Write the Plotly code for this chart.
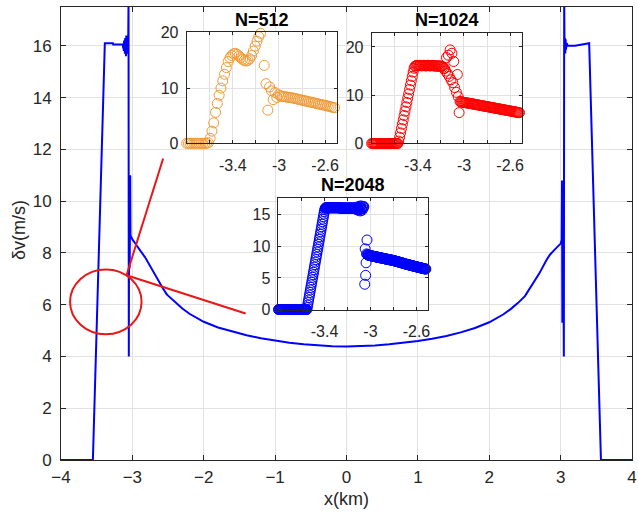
import plotly.graph_objects as go

# ---------------- data ----------------
INSET_X0 = -3.8          # first grid node shown in the insets
DOMAIN_LEN = 8.0         # x from -4 to 4 km

# N = 512 (orange)
y512 = ([0.0] * 12 +
        [0.1, 0.9, 2.2, 3.7, 5.6, 7.2, 8.7, 10.0, 11.3, 12.5, 13.7, 14.8, 15.5, 15.9,
         16.2, 16.3, 16.1, 15.8, 15.5, 15.2, 15.0, 14.9, 15.0, 15.3, 15.9, 16.7, 17.6,
         18.5, 19.3, 19.9, 20.2, 14.1, 10.8, 6.0, 10.2, 9.5, 7.9, 9.2, 8.3, 8.8, 8.6,
         8.5, 8.45, 8.4, 8.35, 8.3, 8.25, 8.2, 8.1, 8.05, 7.95, 7.9, 7.8, 7.75, 7.65,
         7.6, 7.5, 7.45, 7.35, 7.3, 7.2, 7.15, 7.05, 7.0, 6.9, 6.85, 6.75, 6.7, 6.6,
         6.5, 6.45])

# N = 1024 (red)
y1024 = ([0.0] * 30 +
         [0.5, 1.3, 2.2, 3.1, 4.0, 4.9, 5.8, 6.7, 7.6, 8.5, 9.4, 10.3, 11.2, 12.1, 13.0,
          13.9, 14.8, 15.6, 16.0, 16.1] +
         [16.2, 16.2, 16.1, 16.2, 16.2, 16.1, 16.1, 16.2, 16.2, 16.1, 16.1, 16.1, 16.2,
          16.2, 16.1, 16.1, 16.1, 16.2, 16.1, 16.1, 16.1, 16.0, 16.1, 16.1, 16.0, 16.0,
          16.1, 16.0, 16.0] +
         [15.8, 15.5, 15.6, 15.0, 17.8, 14.5, 18.3, 13.9, 19.4, 13.2, 18.7, 12.6, 17.0,
          11.6, 23.1, 10.6, 14.3, 9.7, 6.4, 8.7, 8.6, 8.62] +
         [8.55, 8.52, 8.49, 8.46, 8.43, 8.40, 8.37, 8.33, 8.30, 8.26, 8.23, 8.20, 8.16,
          8.13, 8.09, 8.06, 8.02, 7.99, 7.95, 7.92, 7.88, 7.85, 7.81, 7.78, 7.74, 7.71,
          7.67, 7.64, 7.60, 7.57, 7.53, 7.50, 7.46, 7.43, 7.39, 7.36, 7.32, 7.29, 7.25,
          7.22, 7.18, 7.15, 7.11, 7.08, 7.04, 7.01, 6.97, 6.94, 6.90, 6.87, 6.83, 6.80,
          6.76, 6.73, 6.69, 6.66, 6.62, 6.59, 6.55, 6.52, 6.48, 6.45, 6.41, 6.38])

# N = 2048 (blue)
y2048 = ([0.0] * 64 +
         [0.3, 0.7, 1.1, 1.5, 1.9, 2.3, 2.7, 3.1, 3.5, 3.9, 4.3, 4.7, 5.1, 5.5, 5.9, 6.3,
          6.7, 7.1, 7.5, 7.9, 8.3, 8.7, 9.1, 9.5, 9.9, 10.3, 10.7, 11.1, 11.5, 11.9, 12.3,
          12.7, 13.1, 13.5, 13.9, 14.3, 14.7, 15.1, 15.5, 15.8, 16.0, 16.1] +
         [16.1] * 30 + [16.05] * 35 +
         [16.0, 15.9, 16.1, 15.8, 16.2, 15.9, 16.0, 15.7, 16.3, 15.8, 16.1, 15.6, 16.4,
          15.9, 16.0, 15.7, 16.3, 16.0, 16.2, 16.3] +
         [17.8, 4.0, 9.6, 5.4, 7.4, 8.8, 11.0, 8.7, 8.65, 8.62] +
         [8.58, 8.56, 8.55, 8.53, 8.52, 8.50, 8.49, 8.47, 8.46, 8.44, 8.42, 8.41, 8.39,
          8.38, 8.36, 8.35, 8.33, 8.32, 8.30, 8.29, 8.27] +
         [8.26, 8.24, 8.23, 8.21, 8.20, 8.18, 8.17, 8.15, 8.14, 8.12, 8.11, 8.09, 8.08,
          8.06, 8.05, 8.03, 8.02, 8.00, 7.99, 7.97, 7.96, 7.94, 7.93, 7.91, 7.90, 7.88,
          7.87, 7.85, 7.84, 7.82, 7.81, 7.79, 7.78, 7.76, 7.75] +
         [7.73, 7.71, 7.69, 7.67, 7.65, 7.63, 7.61, 7.59, 7.57, 7.55, 7.53, 7.51, 7.49,
          7.47, 7.45, 7.43, 7.41, 7.39, 7.37, 7.35, 7.33, 7.31, 7.29, 7.27, 7.25, 7.22] +
         [7.20, 7.18, 7.16, 7.14, 7.13, 7.11, 7.09, 7.07, 7.05, 7.03, 7.02, 7.00, 6.98,
          6.96, 6.94, 6.92, 6.91, 6.89, 6.87, 6.85, 6.83, 6.82, 6.80, 6.78, 6.76] +
         [6.74, 6.72, 6.71, 6.69, 6.67, 6.65, 6.64, 6.62, 6.60, 6.58, 6.57, 6.55, 6.53,
          6.51, 6.50, 6.48, 6.46, 6.45, 6.43, 6.42, 6.40])

# main curve beyond the zoomed window (x, y pairs)
main_left_x = [-4.0]
main_left_y = [0.0]
main_rest_x = [-2.5, -2.4, -2.3, -2.2, -2.1, -2.0, -1.8, -1.6, -1.4, -1.2, -1.0, -0.8,
               -0.6, -0.4, -0.2, 0.0, 0.2, 0.4, 0.6, 0.8, 1.0, 1.2, 1.4, 1.6, 1.8, 2.0,
               2.1, 2.2, 2.3, 2.4, 2.5, 2.6, 2.7, 2.8, 2.85, 2.9, 2.95, 3.0, 3.015,
               3.02, 3.024, 3.03, 3.038, 3.045, 3.05, 3.055, 3.06, 3.065, 3.07, 3.075,
               3.085, 3.1, 3.2, 3.3, 3.4, 3.565, 4.0]
main_rest_y = [6.35, 6.08, 5.85, 5.65, 5.48, 5.34, 5.12, 4.96, 4.82, 4.70, 4.61, 4.53,
               4.47, 4.42, 4.39, 4.38, 4.39, 4.42, 4.47, 4.53, 4.60, 4.68, 4.79, 4.93,
               5.10, 5.32, 5.46, 5.63, 5.83, 6.06, 6.33, 6.74, 7.20, 7.72, 7.93, 8.08,
               8.22, 8.36, 8.5, 10.8, 5.3, 8.6, 8.3, 4.0, 17.8, 15.8, 16.3, 15.7,
               16.25, 15.85, 16.1, 16.0, 16.0, 16.05, 16.1, 0.0, 0.0]

main_xticks = [-4, -3, -2, -1, 0, 1, 2, 3, 4]
main_yticks = [0, 2, 4, 6, 8, 10, 12, 14, 16]
inset_xticks = [-3.6, -3.4, -3.2, -3.0, -2.8, -2.6]
inset_xtext = ['', '-3.4', '', '-3', '', '-2.6']

# annotation geometry (red marks)
ELLIPSE = dict(x0=-3.873, x1=-2.871, y0=4.86, y1=7.36)
POINTER_FROM = (-3.082, 7.14)
POINTER_TO = [(-2.569, 11.65), (-1.413, 5.66)]


def grid(n, values):
    step = DOMAIN_LEN / n
    return [INSET_X0 + i * step for i in range(len(values))]


x512 = grid(512, y512)
x1024 = grid(1024, y1024)
x2048 = grid(2048, y2048)

main_x = main_left_x + x2048 + main_rest_x
main_y = main_left_y + y2048 + main_rest_y

# ---------------- figure ----------------
FONT = "Liberation Sans, Arial, Helvetica, sans-serif"
TXT = "#262626"
GRID = "#E2E2E2"
ORANGE = "#F09A36"
RED = "#FF0000"
BLUE = "#0000FF"
ANN_RED = "rgb(232,22,22)"

fig = go.Figure()
fig.add_trace(go.Scatter(x=main_x, y=main_y, mode="lines",
                         line=dict(color=BLUE, width=2), xaxis="x", yaxis="y",
                         showlegend=False, hoverinfo="skip"))
for xs, ys, col, ax in [(x512, y512, ORANGE, "2"), (x1024, y1024, RED, "3"),
                        (x2048, y2048, BLUE, "4")]:
    fig.add_trace(go.Scatter(x=xs, y=ys, mode="markers",
                             marker=dict(symbol="circle-open", size=10, color=col,
                                         line=dict(width=1, color=col)),
                             xaxis="x" + ax, yaxis="y" + ax, cliponaxis=False,
                             showlegend=False, hoverinfo="skip"))

axis_common = dict(showline=True, linecolor=TXT, linewidth=1, mirror="ticks",
                   ticks="inside", tickcolor=TXT, showgrid=True, gridcolor=GRID,
                   gridwidth=1, zeroline=False, automargin=False)

layout = dict(
    width=638, height=516,
    margin=dict(l=61, r=6, t=7, b=56, autoexpand=False),
    paper_bgcolor="white", plot_bgcolor="white",
    font=dict(family=FONT, color=TXT),
    xaxis=dict(domain=[0, 1], range=[-4, 4], tickvals=main_xticks, ticklen=5,
               tickfont=dict(size=17, color=TXT), ticklabelstandoff=2, **axis_common),
    yaxis=dict(domain=[0, 1], range=[0, 17.5], tickvals=main_yticks, ticklen=5,
               tickfont=dict(size=17, color=TXT), ticklabelstandoff=5, **axis_common),
)

insets = [
    ("2", [0.2201, 0.4828], [0.6991, 0.9442], [0, 20.1], [0, 10, 20], "N=512"),
    ("3", [0.5441, 0.8068], [0.6987, 0.9426], [0, 22.9], [0, 10, 20], "N=1024"),
    ("4", [0.3809, 0.6427], [0.3322, 0.5784], [0, 17.65], [0, 5, 10, 15], "N=2048"),
]
shapes = []
annotations = []
for ax, xd, yd, yr, yt, title in insets:
    layout["xaxis" + ax] = dict(domain=xd, anchor="y" + ax, range=[-3.8, -2.5],
                                tickvals=inset_xticks, ticktext=inset_xtext, ticklen=3,
                                tickfont=dict(size=16, color=TXT), ticklabelstandoff=7,
                                **axis_common)
    layout["yaxis" + ax] = dict(domain=yd, anchor="x" + ax, range=yr, tickvals=yt,
                                ticklen=3, tickfont=dict(size=16, color=TXT),
                                ticklabelstandoff=4, **axis_common)
    shapes.append(dict(type="rect", xref="x" + ax + " domain", yref="y" + ax + " domain",
                       x0=0, x1=1, y0=0, y1=1, fillcolor="white",
                       line=dict(width=0), layer="below"))
    annotations.append(dict(text="<b>%s</b>" % title, xref="paper", yref="paper",
                            x=(xd[0] + xd[1]) / 2, y=yd[1] + 0.028,
                            xanchor="center", yanchor="middle", showarrow=False,
                            font=dict(size=18, color="black", family=FONT)))

shapes.append(dict(type="circle", xref="x", yref="y", **ELLIPSE,
                   line=dict(color=ANN_RED, width=2), layer="above"))
for tx, ty in POINTER_TO:
    shapes.append(dict(type="line", xref="x", yref="y", x0=POINTER_FROM[0],
                       y0=POINTER_FROM[1], x1=tx, y1=ty,
                       line=dict(color=ANN_RED, width=2), layer="above"))

annotations.append(dict(text="δv(m/s)", xref="paper", yref="paper", x=-0.0736, y=0.5077,
                        textangle=-90, xanchor="center", yanchor="middle",
                        showarrow=False, font=dict(size=18, color=TXT, family=FONT)))
annotations.append(dict(text="x(km)", xref="paper", yref="paper", x=0.5, y=-0.085,
                        xanchor="center", yanchor="middle", showarrow=False,
                        font=dict(size=18, color=TXT, family=FONT)))

layout["shapes"] = shapes
layout["annotations"] = annotations
fig.update_layout(**layout)
fig.write_html("out.html", config={"displayModeBar": False},
               post_script="document.body.style.margin='0';document.body.style.padding='0';")
